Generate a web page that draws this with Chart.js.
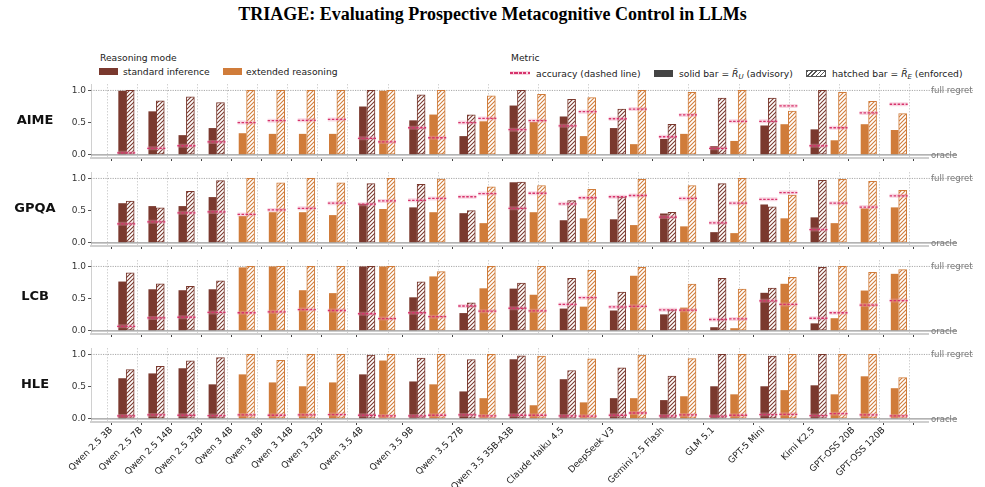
<!DOCTYPE html>
<html>
<head>
<meta charset="utf-8">
<title>TRIAGE</title>
<script src="https://cdn.jsdelivr.net/npm/chart.js@4.4.1/dist/chart.umd.min.js"></script>
<style>
    html, body { margin: 0; padding: 0; background: #fff; }
    body { width: 985px; height: 487px; position: relative; overflow: hidden;
           font-family: 'DejaVu Sans', sans-serif; color: #222; }
    #title { position: absolute; left: 0; top: 4px; width: 985px; text-align: center;
             font: bold 18px 'Liberation Serif', 'Times New Roman', serif; color: #000; }
    .lg { position: absolute; font-size: 9.2px; line-height: 11px; white-space: nowrap; }
    .sw { position: absolute; box-sizing: border-box; }
    .hatch { border: 1px solid #555;
             background: repeating-linear-gradient(-45deg, #555 0 1px, #fff 1px 3px); }
    .dash { height: 4px; background: rgba(240,150,180,0.4); }
    .dash i { position: absolute; left: 0; right: 0; top: 1.2px; height: 1.5px;
              background: repeating-linear-gradient(90deg, #d6336c 0 3px, transparent 3px 4.5px); }
    sub { font-size: 7px; vertical-align: -2px; }
</style>
</head>
<body>
<div id="title">TRIAGE: Evaluating Prospective Metacognitive Control in LLMs</div>

<div class="lg" style="left:100px;top:52px">Reasoning mode</div>
<div class="sw" style="left:99px;top:68px;width:19px;height:7px;background:#7a392e"></div>
<div class="lg" style="left:123px;top:66px">standard inference</div>
<div class="sw" style="left:223px;top:68px;width:19px;height:7px;background:#d07c3a"></div>
<div class="lg" style="left:246px;top:66px">extended reasoning</div>

<div class="lg" style="left:511px;top:52px">Metric</div>
<div class="sw dash" style="left:510px;top:71px;width:20px"><i></i></div>
<div class="lg" style="left:536px;top:68px">accuracy (dashed line)</div>
<div class="sw" style="left:654px;top:70px;width:19px;height:7px;background:#444"></div>
<div class="lg" style="left:679px;top:68px">solid bar = <i>R&#771;</i><sub><i>U</i></sub> (advisory)</div>
<div class="sw hatch" style="left:806px;top:70px;width:20px;height:7px"></div>
<div class="lg" style="left:832px;top:68px">hatched bar = <i>R&#771;</i><sub><i>E</i></sub> (enforced)</div>

<script>
(function () {
    'use strict';

    // ── Data ──────────────────────────────────────────────────
    var models = ['Qwen 2.5 3B', 'Qwen 2.5 7B', 'Qwen 2.5 14B', 'Qwen 2.5 32B',
        'Qwen 3 4B', 'Qwen 3 8B', 'Qwen 3 14B', 'Qwen 3 32B',
        'Qwen 3.5 4B', 'Qwen 3.5 9B', 'Qwen 3.5 27B', 'Qwen 3.5 35B-A3B',
        'Claude Haiku 4.5', 'DeepSeek V3', 'Gemini 2.5 Flash', 'GLM 5.1',
        'GPT-5 Mini', 'Kimi K2.5', 'GPT-OSS 20B', 'GPT-OSS 120B'];
    var yTicks = [0, 0.5, 1.0];
    var n = null;

    // AIME
    var aimeStdAdv = [0.99, 0.67, 0.30, 0.41, n, n, n, n, 0.745, 0.53, 0.285, 0.76, 0.59, 0.41, 0.24, 0.13, 0.45, 0.39, n, n];
    var aimeStdEnf = [1.0, 0.84, 0.90, 0.81, n, n, n, n, 1.0, 0.93, 0.62, 1.0, 0.86, 0.71, 0.475, 0.88, 0.88, 1.0, n, n];
    var aimeStdAcc = [0.03, 0.10, 0.14, 0.20, n, n, n, n, 0.255, 0.42, 0.50, 0.39, 0.45, 0.56, 0.28, 0.10, 0.52, 0.14, n, n];
    var aimeExtAdv = [n, n, n, n, 0.33, 0.32, 0.32, 0.32, 0.99, 0.62, 0.515, 0.505, 0.285, 0.16, 0.32, 0.21, 0.47, 0.22, 0.47, 0.38];
    var aimeExtEnf = [n, n, n, n, 1.0, 1.0, 1.0, 1.0, 1.0, 1.0, 0.915, 0.94, 0.89, 1.0, 0.97, 1.0, 0.68, 0.97, 0.83, 0.64];
    var aimeExtAcc = [n, n, n, n, 0.50, 0.53, 0.535, 0.55, 0.20, 0.265, 0.565, 0.53, 0.67, 0.71, 0.62, 0.52, 0.76, 0.42, 0.65, 0.785];

    // GPQA
    var gpqaStdAdv = [0.61, 0.565, 0.565, 0.705, n, n, n, n, 0.60, 0.545, 0.455, 0.935, 0.345, 0.36, 0.45, 0.16, 0.59, 0.39, n, n];
    var gpqaStdEnf = [0.65, 0.545, 0.80, 0.965, n, n, n, n, 0.92, 0.91, 0.50, 0.945, 0.655, 0.71, 0.475, 0.92, 0.56, 0.97, n, n];
    var gpqaStdAcc = [0.295, 0.325, 0.465, 0.48, n, n, n, n, 0.60, 0.66, 0.715, 0.535, 0.605, 0.715, 0.40, 0.31, 0.675, 0.205, n, n];
    var gpqaExtAdv = [n, n, n, n, 0.41, 0.47, 0.47, 0.425, 0.52, 0.47, 0.30, 0.47, 0.375, 0.27, 0.25, 0.145, 0.375, 0.30, 0.53, 0.545];
    var gpqaExtEnf = [n, n, n, n, 1.0, 0.93, 1.0, 0.93, 1.0, 0.99, 0.87, 0.89, 0.83, 0.985, 0.89, 1.0, 0.74, 0.985, 0.955, 0.815];
    var gpqaExtAcc = [n, n, n, n, 0.44, 0.51, 0.535, 0.615, 0.65, 0.69, 0.765, 0.77, 0.70, 0.735, 0.69, 0.615, 0.78, 0.615, 0.555, 0.73];

    // LCB
    var lcbStdAdv = [0.76, 0.64, 0.625, 0.64, n, n, n, n, 0.995, 0.515, 0.27, 0.65, 0.34, 0.31, 0.25, 0.05, 0.585, 0.11, n, n];
    var lcbStdEnf = [0.90, 0.73, 0.69, 0.775, n, n, n, n, 1.0, 0.76, 0.435, 0.74, 0.815, 0.60, 0.325, 0.815, 0.665, 0.985, n, n];
    var lcbStdAcc = [0.07, 0.20, 0.21, 0.285, n, n, n, n, 0.265, 0.28, 0.385, 0.35, 0.41, 0.37, 0.325, 0.175, 0.465, 0.195, n, n];
    var lcbExtAdv = [n, n, n, n, 0.98, 0.995, 0.625, 0.58, 0.995, 0.84, 0.655, 0.555, 0.37, 0.85, 0.355, 0.035, 0.725, 0.19, 0.62, 0.88];
    var lcbExtEnf = [n, n, n, n, 1.0, 1.0, 1.0, 1.0, 1.0, 0.92, 1.0, 1.0, 0.94, 0.985, 0.725, 0.65, 0.83, 1.0, 0.91, 0.95];
    var lcbExtAcc = [n, n, n, n, 0.28, 0.295, 0.33, 0.315, 0.19, 0.22, 0.305, 0.31, 0.515, 0.38, 0.32, 0.185, 0.41, 0.28, 0.40, 0.47];

    // HLE
    var hleStdAdv = [0.625, 0.70, 0.78, 0.53, n, n, n, n, 0.685, 0.575, 0.42, 0.92, 0.61, 0.315, 0.285, 0.50, 0.50, 0.515, n, n];
    var hleStdEnf = [0.765, 0.815, 0.90, 0.95, n, n, n, n, 0.99, 0.945, 0.92, 0.98, 0.75, 0.79, 0.665, 1.0, 0.975, 1.0, n, n];
    var hleStdAcc = [0.045, 0.06, 0.055, 0.05, n, n, n, n, 0.055, 0.045, 0.06, 0.055, 0.045, 0.055, 0.045, 0.04, 0.065, 0.05, n, n];
    var hleExtAdv = [n, n, n, n, 0.685, 0.56, 0.50, 0.56, 0.90, 0.53, 0.315, 0.205, 0.25, 0.315, 0.345, 0.375, 0.44, 0.375, 0.655, 0.47];
    var hleExtEnf = [n, n, n, n, 1.0, 0.91, 1.0, 1.0, 1.0, 1.0, 1.0, 0.975, 0.93, 0.99, 0.935, 1.0, 1.0, 1.0, 1.0, 0.64];
    var hleExtAcc = [n, n, n, n, 0.06, 0.055, 0.06, 0.065, 0.045, 0.055, 0.045, 0.055, 0.04, 0.09, 0.06, 0.055, 0.07, 0.08, 0.06, 0.045];

    var panels = [
        { name: 'AIME', stdAdv: aimeStdAdv, stdEnf: aimeStdEnf, stdAcc: aimeStdAcc, extAdv: aimeExtAdv, extEnf: aimeExtEnf, extAcc: aimeExtAcc },
        { name: 'GPQA', stdAdv: gpqaStdAdv, stdEnf: gpqaStdEnf, stdAcc: gpqaStdAcc, extAdv: gpqaExtAdv, extEnf: gpqaExtEnf, extAcc: gpqaExtAcc },
        { name: 'LCB',  stdAdv: lcbStdAdv,  stdEnf: lcbStdEnf,  stdAcc: lcbStdAcc,  extAdv: lcbExtAdv,  extEnf: lcbExtEnf,  extAcc: lcbExtAcc },
        { name: 'HLE',  stdAdv: hleStdAdv,  stdEnf: hleStdEnf,  stdAcc: hleStdAcc,  extAdv: hleExtAdv,  extEnf: hleExtEnf,  extAcc: hleExtAcc }
    ];

    // ── Style / layout ────────────────────────────────────────
    var STD = '#7a392e', EXT = '#d07c3a';
    var ACC = '#d6336c', HALO = 'rgba(240,150,180,0.38)';
    var FONT = "'DejaVu Sans', sans-serif";
    var GAP = 0.5;          // space between models, in pair widths
    var OFF = 0.2;          // solid / hatched offset from pair centre
    var TOPS = [84, 172, 260, 348];
    var PLOT_H = 74;

    function hatch(color) {
        var s = 4;
        var c = document.createElement('canvas');
        c.width = s; c.height = s;
        var g = c.getContext('2d');
        g.fillStyle = '#fff';
        g.fillRect(0, 0, s, s);
        g.strokeStyle = color;
        g.lineWidth = 1.1;
        g.beginPath();
        g.moveTo(0, s); g.lineTo(s, 0);
        g.moveTo(-1, 1); g.lineTo(1, -1);
        g.moveTo(s - 1, s + 1); g.lineTo(s + 1, s - 1);
        g.stroke();
        return g.createPattern(c, 'repeat');
    }

    // pair positions on the x axis
    var pairs = [], centers = [], gridAt = [];
    var cur = 0;
    models.forEach(function (m, i) {
        var own = [];
        ['std', 'ext'].forEach(function (mode) {
            var has = panels.some(function (p) { return p[mode + 'Adv'][i] !== null; });
            if (has) { own.push({ i: i, mode: mode, c: cur + 0.5 }); cur += 1; }
        });
        centers.push((own[0].c + own[own.length - 1].c) / 2);
        gridAt.push(own[0].c - OFF);
        pairs = pairs.concat(own);
        cur += GAP;
    });
    var XMIN = -0.21;
    var XMAX = pairs[pairs.length - 1].c + 0.42;

    function bars(p, mode, key, dx) {
        return pairs.filter(function (q) { return q.mode === mode; })
            .map(function (q) { return { x: q.c + dx, y: p[mode + key][q.i] }; });
    }

    function accLine(p) {
        var pts = [];
        pairs.forEach(function (q) {
            var v = p[q.mode + 'Acc'][q.i];
            pts.push({ x: q.c - 0.45, y: v }, { x: q.c + 0.45, y: v }, { x: q.c + 0.46, y: null });
        });
        return pts;
    }

    var refLines = {
        id: 'refLines',
        beforeDatasetsDraw: function (chart) {
            var a = chart.chartArea, ctx = chart.ctx;
            var y1 = chart.scales.y.getPixelForValue(1);
            ctx.save();
            ctx.strokeStyle = '#a8a8a8';
            ctx.lineWidth = 1;
            ctx.setLineDash([1.2, 1.2]);
            ctx.beginPath();
            ctx.moveTo(a.left, y1); ctx.lineTo(973, y1);
            ctx.stroke();
            ctx.restore();
        },
        afterDatasetsDraw: function (chart) {
            var a = chart.chartArea, ctx = chart.ctx;
            var y0 = chart.scales.y.getPixelForValue(0);
            ctx.save();
            ctx.strokeStyle = '#9a9a9a';
            ctx.lineWidth = 1.3;
            ctx.beginPath();
            ctx.moveTo(a.left, y0); ctx.lineTo(957, y0);
            ctx.stroke();
            ctx.restore();
        },
        afterDraw: function (chart) {
            var a = chart.chartArea, ctx = chart.ctx, y = chart.scales.y;
            ctx.save();
            ctx.fillStyle = '#777';
            ctx.font = '8.5px ' + FONT;
            ctx.textBaseline = 'middle';
            ctx.fillText('full regret', a.right + 3, y.getPixelForValue(1));
            ctx.fillText('oracle', a.right + 3, y.getPixelForValue(0) + 1);
            ctx.fillStyle = '#111';
            ctx.font = 'bold 13px ' + FONT;
            ctx.textAlign = 'center';
            ctx.fillText(chart.options.plugins.refLines.label, 35, y.getPixelForValue(0.53));
            ctx.restore();
        }
    };

    panels.forEach(function (p, k) {
        var isLast = k === panels.length - 1;
        var xh = isLast ? 487 - TOPS[k] - PLOT_H : 6;
        var cv = document.createElement('canvas');
        cv.width = 985;
        cv.height = PLOT_H + xh;
        cv.style.cssText = 'position:absolute;left:0;top:' + TOPS[k] + 'px;';
        document.body.appendChild(cv);

        new Chart(cv, {
            type: 'bar',
            data: {
                datasets: [
                    { data: accLine(p), type: 'line', borderColor: ACC, borderWidth: 1.3, borderDash: [2.5, 1.5],
                      pointRadius: 0, spanGaps: false, order: 1 },
                    { data: accLine(p), type: 'line', borderColor: HALO, borderWidth: 4,
                      pointRadius: 0, spanGaps: false, order: 2 },
                    { data: bars(p, 'std', 'Adv', -OFF), backgroundColor: STD, maxBarThickness: 7, order: 3 },
                    { data: bars(p, 'std', 'Enf', OFF), backgroundColor: hatch(STD), borderColor: STD,
                      borderWidth: 1, borderSkipped: false, maxBarThickness: 8, order: 3 },
                    { data: bars(p, 'ext', 'Adv', -OFF), backgroundColor: EXT, maxBarThickness: 7, order: 3 },
                    { data: bars(p, 'ext', 'Enf', OFF), backgroundColor: hatch(EXT), borderColor: EXT,
                      borderWidth: 1, borderSkipped: false, maxBarThickness: 8, order: 3 }
                ]
            },
            options: {
                responsive: false,
                animation: false,
                devicePixelRatio: 1,
                layout: { padding: { left: 0, right: 57, top: 0, bottom: 0 } },
                datasets: { bar: { grouped: false, barPercentage: 1, categoryPercentage: 1 } },
                plugins: {
                    legend: { display: false },
                    tooltip: { enabled: false },
                    refLines: { label: p.name }
                },
                scales: {
                    x: {
                        type: 'linear', position: 'bottom', min: XMIN, max: XMAX,
                        afterBuildTicks: function (s) { s.ticks = centers.map(function (v) { return { value: v }; }); },
                        ticks: {
                            display: isLast, autoSkip: false, minRotation: 45, maxRotation: 45,
                            padding: 0, labelOffset: -15, color: '#222', font: { family: FONT, size: 9 },
                            callback: function (v, i) { return models[i]; }
                        },
                        grid: { drawOnChartArea: false, drawTicks: true, tickLength: 3, tickColor: '#444', tickWidth: 1 },
                        border: { color: '#cfcfcf', width: 2 },
                        afterFit: function (s) { s.height = xh; s.paddingLeft = 0; s.paddingRight = 0; }
                    },
                    xg: {
                        type: 'linear', position: 'top', min: XMIN, max: XMAX,
                        afterBuildTicks: function (s) { s.ticks = gridAt.map(function (v) { return { value: v }; }); },
                        ticks: { display: false },
                        grid: { color: '#c6c6c6', lineWidth: 0.8, drawTicks: false },
                        border: { display: false, dash: [1.5, 1.5] },
                        afterFit: function (s) { s.height = 0; s.paddingLeft = 0; s.paddingRight = 0; }
                    },
                    y: {
                        min: -0.05, max: 1.1,
                        afterBuildTicks: function (s) { s.ticks = yTicks.map(function (v) { return { value: v }; }); },
                        ticks: { padding: 2, color: '#333', font: { family: FONT, size: 9 },
                                 callback: function (v) { return v.toFixed(1); } },
                        grid: { drawOnChartArea: false, tickLength: 3, tickColor: '#555' },
                        border: { color: '#d0d0d0', width: 1 },
                        afterFit: function (s) { s.width = 91; s.paddingTop = 0; s.paddingBottom = 0; }
                    }
                }
            },
            plugins: [refLines]
        });
    });
}());
</script>
</body>
</html>
